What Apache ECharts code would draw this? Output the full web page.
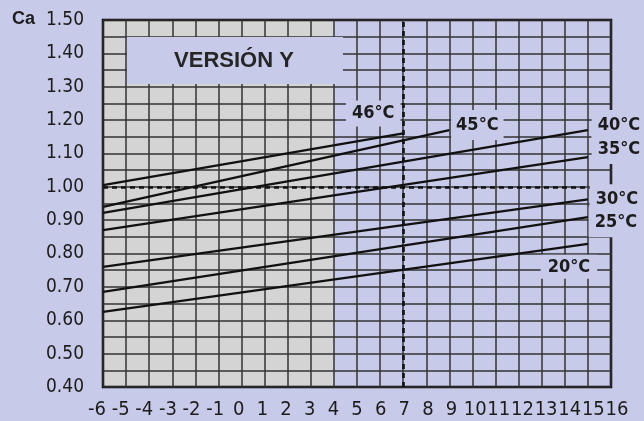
<!DOCTYPE html>
<html>
<head>
<meta charset="utf-8">
<script src="https://cdn.jsdelivr.net/npm/echarts@6/dist/echarts.min.js"></script>
<style>
  html, body { margin: 0; padding: 0; background: #c8cae9; }
  #chart { width: 644px; height: 421px; }
</style>
</head>
<body>
<div id="chart"></div>
<script>
// Correction factor Ca against temperature difference, one line per water temperature
const temps   = ['46°C', '45°C', '40°C', '35°C', '30°C', '25°C', '20°C'];
const tStart  = [-6, -6, -6, -6, -6, -6, -6];
const caStart = [1.005, 0.94, 0.922, 0.87, 0.76, 0.685, 0.625];
const tEnd    = [7, 9, 15, 15, 15, 15, 15];
const caEnd   = [1.16, 1.17, 1.17, 1.089, 0.9625, 0.909, 0.829];

// axis ranges and steps
const xMin = -6, xMax = 16, xStep = 1;
const yMin = 0.4, yMax = 1.5, yStep = 0.1;

// reference lines (dotted) and shaded band
const refT = 7;
const refCa = 1.0;
const shadeFrom = -6, shadeTo = 4;

// label placement around each line's end point (pixels)
const labelOffsets = [[-30, -20], [28, -5], [31, -5], [31, -8], [29, 0], [28, 5], [-19, 23]];
const labelPadding = [[4, 6], [6, 5], [6, 6], [6, 6], [6, 6], [6, 6], [3, 7]];

const LAVENDER = '#c8cae9';
const SHADE = '#d4d4d4';
const INK = '#1c1c1c';
const NARROW = "'Liberation Sans Narrow', 'DejaVu Sans Condensed', 'Roboto', sans-serif";

const chart = echarts.init(document.getElementById('chart'), null, { renderer: 'canvas' });

const lineSeries = temps.map((name, i) => {
  const s = {
    name: name,
    type: 'line',
    xAxisIndex: 0,
    yAxisIndex: 0,
    z: 3,
    showSymbol: false,
    silent: true,
    data: [[tStart[i], caStart[i]], [tEnd[i], caEnd[i]]],
    lineStyle: { color: '#111', width: 2.3 },
    markPoint: {
      symbol: 'rect',
      symbolSize: 1,
      silent: true,
      itemStyle: { color: 'rgba(0,0,0,0)' },
      z: 6,
      label: {
        show: true,
        position: 'inside',
        offset: labelOffsets[i],
        formatter: name,
        color: INK,
        fontFamily: NARROW,
        fontWeight: 'bold',
        fontSize: 18,
        backgroundColor: LAVENDER,
        padding: labelPadding[i]
      },
      data: [{ coord: [tEnd[i], caEnd[i]] }]
    }
  };
  if (i === 0) {
    s.markLine = {
      symbol: 'none',
      silent: true,
      z: 4,
      label: { show: false },
      lineStyle: { color: '#111', width: 2.6, type: [5, 4] },
      data: [{ xAxis: refT }, { yAxis: refCa }]
    };
  }
  return s;
});

const option = {
  animation: false,
  backgroundColor: LAVENDER,
  grid: [
    { left: 103, right: 33, top: 20, bottom: 34, show: true, borderColor: '#000',
      borderWidth: 2.5, backgroundColor: 'transparent', z: 2 },
    // twin grid carrying only the temperature tick labels
    { left: 97, right: 27, top: 20, bottom: 34, show: false }
  ],
  xAxis: [
    {
      type: 'value', gridIndex: 0, min: xMin, max: xMax, interval: xStep, z: 2,
      axisLine: { show: false }, axisTick: { show: false }, axisLabel: { show: false },
      splitLine: { show: true, lineStyle: { color: '#333', width: 1.5 } }
    },
    {
      type: 'value', gridIndex: 1, min: xMin, max: xMax, interval: xStep,
      axisLine: { show: false }, axisTick: { show: false }, splitLine: { show: false },
      axisLabel: {
        color: INK, fontFamily: NARROW, fontSize: 20, margin: 13,
        showMinLabel: true, showMaxLabel: true, hideOverlap: false
      }
    }
  ],
  yAxis: [
    {
      type: 'value', gridIndex: 0, min: yMin, max: yMax, interval: yStep, z: 2,
      axisLine: { show: false }, axisTick: { show: false },
      axisLabel: {
        color: INK, fontFamily: NARROW, fontSize: 19, margin: 19,
        formatter: v => v.toFixed(2)
      },
      splitLine: { show: true, lineStyle: { color: '#333', width: 1.5 } },
      minorTick: { show: false, splitNumber: 2 },
      minorSplitLine: { show: true, lineStyle: { color: '#333', width: 1.5 } }
    },
    { type: 'value', gridIndex: 1, min: yMin, max: yMax, show: false }
  ],
  graphic: [
    {
      type: 'text', left: 12, top: 10, z: 10,
      style: { text: 'Ca', fill: INK, font: "bold 18px 'Liberation Sans Narrow', 'Liberation Sans', sans-serif" }
    },
    {
      type: 'rect', z: 10,
      shape: { x: 127, y: 37, width: 216, height: 47 },
      style: { fill: LAVENDER }
    },
    {
      type: 'text', z: 11, x: 234, y: 61,
      style: {
        text: 'VERSIÓN Y', fill: '#262626', align: 'center', verticalAlign: 'middle',
        font: "bold 22px 'Liberation Sans Narrow', 'Liberation Sans', sans-serif"
      }
    }
  ],
  series: [
    {
      // shaded band behind the grid lines
      type: 'custom',
      xAxisIndex: 0,
      yAxisIndex: 0,
      z: 1,
      silent: true,
      data: [[shadeFrom, shadeTo]],
      renderItem: function (params, api) {
        const a = api.coord([api.value(0), yMax]);
        const b = api.coord([api.value(1), yMin]);
        return {
          type: 'rect',
          shape: { x: a[0], y: a[1], width: b[0] - a[0], height: b[1] - a[1] },
          style: { fill: SHADE }
        };
      }
    }
  ].concat(lineSeries)
};

chart.setOption(option);
</script>
</body>
</html>
